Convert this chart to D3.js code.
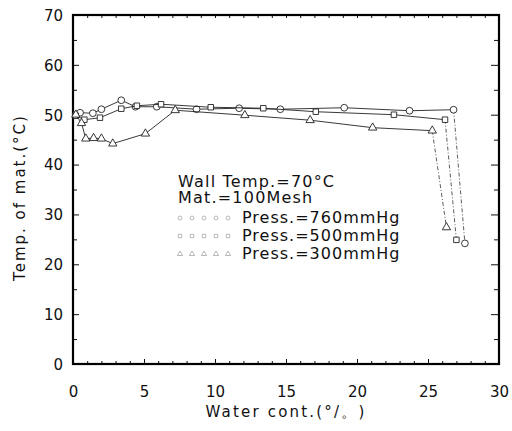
<!DOCTYPE html>
<html>
<head>
<meta charset="utf-8">
<script src="https://cdn.jsdelivr.net/npm/d3@7"></script>
<style>
  body { margin: 0; background: #fff; }
  text { font-family: "DejaVu Sans", sans-serif; fill: #111; }
</style>
</head>
<body>
<div id="chart"></div>
<script>
// data: [water content %, temperature °C]
const press760 = [[0.2, 50], [0.5, 50.4], [1.4, 50.3], [2.0, 51.1], [3.4, 52.9], [4.4, 51.6],
  [5.9, 51.6], [8.7, 51.1], [11.7, 51.3], [14.6, 51.1], [19.1, 51.4], [23.7, 50.8], [26.8, 51.0], [27.6, 24.2]];
const press500 = [[0.2, 49.8], [0.8, 49.0], [1.9, 49.4], [3.4, 51.2], [4.5, 51.8], [6.2, 52.1],
  [9.7, 51.5], [13.4, 51.3], [17.1, 50.6], [22.6, 50.0], [26.2, 49.0], [27.0, 24.9]];
const press300 = [[0.2, 50], [0.6, 48.3], [0.9, 45.2], [1.45, 45.3], [2.0, 45.2], [2.8, 44.2],
  [5.1, 46.2], [7.2, 50.9], [12.1, 49.9], [16.7, 48.9], [21.1, 47.4], [25.3, 46.8], [26.3, 27.4]];

const seriesNames = ["Press.=760mmHg", "Press.=500mmHg", "Press.=300mmHg"];
const seriesSymbols = [d3.symbolCircle, d3.symbolSquare, d3.symbolTriangle];
const noteLines = ["Wall Temp.=70°C", "Mat.=100Mesh"];

const xTicks = [0, 5, 10, 15, 20, 25, 30];
const yTicks = [0, 10, 20, 30, 40, 50, 60, 70];
const xMinor = d3.range(0, 31, 1);
const yMinor = d3.range(5, 70, 10);

const width = 512, height = 431;
const margin = { top: 15, right: 13, bottom: 67, left: 73 };
const innerWidth = width - margin.left - margin.right;
const innerHeight = height - margin.top - margin.bottom;

const svg = d3.select("#chart").append("svg")
  .attr("width", width)
  .attr("height", height);

const g = svg.append("g")
  .attr("transform", `translate(${margin.left}, ${margin.top})`);

const x = d3.scaleLinear().domain([0, 30]).range([0, innerWidth]);
const y = d3.scaleLinear().domain([0, 70]).range([innerHeight, 0]);

// minor ticks first (no labels)
const minorAxes = [
  g.append("g").attr("transform", `translate(0, ${innerHeight})`)
    .call(d3.axisBottom(x).tickValues(xMinor).tickSizeInner(-3).tickSizeOuter(0)),
  g.append("g")
    .call(d3.axisTop(x).tickValues(xMinor).tickSizeInner(-3).tickSizeOuter(0)),
  g.append("g")
    .call(d3.axisLeft(y).tickValues(yMinor).tickSizeInner(-4).tickSizeOuter(0)),
  g.append("g").attr("transform", `translate(${innerWidth}, 0)`)
    .call(d3.axisRight(y).tickValues(yMinor).tickSizeInner(-5).tickSizeOuter(0))
];
minorAxes.forEach(a => a.selectAll("text").remove());

// major ticks with labels
const xAxis = g.append("g")
  .attr("transform", `translate(0, ${innerHeight})`)
  .call(d3.axisBottom(x).tickValues(xTicks).tickSizeInner(-5).tickSizeOuter(0).tickPadding(22));
const yAxis = g.append("g")
  .call(d3.axisLeft(y).tickValues(yTicks).tickSizeInner(-6).tickSizeOuter(0).tickPadding(10));
const yRight = g.append("g")
  .attr("transform", `translate(${innerWidth}, 0)`)
  .call(d3.axisRight(y).tickValues(yTicks).tickSizeInner(-8).tickSizeOuter(0));
yRight.selectAll("text").remove();

xAxis.selectAll("text").style("font-size", "15px").attr("fill", "#111");
yAxis.selectAll("text").style("font-size", "15px").attr("fill", "#111").attr("dy", "0.36em");
g.selectAll(".tick line").attr("stroke", "#111");
g.selectAll(".domain").remove();

// frame
g.append("rect")
  .attr("width", innerWidth)
  .attr("height", innerHeight)
  .attr("fill", "none")
  .attr("stroke", "#000")
  .attr("stroke-width", 2.2);

// series
const allSeries = [press760, press500, press300];
const line = d3.line().x(d => x(d[0])).y(d => y(d[1]));

allSeries.forEach((data, i) => {
  const main = data.slice(0, data.length - 1);
  const drop = data.slice(data.length - 2);
  g.append("path")
    .datum(main)
    .attr("d", line)
    .attr("fill", "none")
    .attr("stroke", "#222")
    .attr("stroke-width", 0.9);
  g.append("path")
    .datum(drop)
    .attr("d", line)
    .attr("fill", "none")
    .attr("stroke", "#333")
    .attr("stroke-width", 0.8)
    .attr("stroke-dasharray", "4,2,1,2");

  const sym = d3.symbol().type(seriesSymbols[i]).size(i === 0 ? 36 : 30);
  g.selectAll(`.pt-${i}`)
    .data(data)
    .join("path")
    .attr("class", `pt-${i}`)
    .attr("transform", d => `translate(${x(d[0])}, ${y(d[1])})`)
    .attr("d", sym)
    .attr("fill", "#fff")
    .attr("stroke", "#222")
    .attr("stroke-width", 0.9);
});

// notes and legend
const legend = svg.append("g");
noteLines.forEach((t, i) => {
  legend.append("text")
    .attr("x", 178)
    .attr("y", 187 + i * 16)
    .style("font-size", "16px")
    .style("letter-spacing", "1.2px")
    .text(t);
});

seriesNames.forEach((name, i) => {
  const ly = 223 + i * 18;
  const sym = d3.symbol().type(seriesSymbols[i]).size(12);
  legend.selectAll(`.lg-${i}`)
    .data(d3.range(5))
    .join("path")
    .attr("class", `lg-${i}`)
    .attr("transform", k => `translate(${180 + k * 12}, ${ly - 5})`)
    .attr("d", sym)
    .attr("fill", "none")
    .attr("stroke", "#999")
    .attr("stroke-width", 0.7);
  legend.append("text")
    .attr("x", 242)
    .attr("y", ly)
    .style("font-size", "16px")
    .style("letter-spacing", "1px")
    .text(name);
});

// axis titles
svg.append("text")
  .attr("x", margin.left + innerWidth / 2)
  .attr("y", 417)
  .attr("text-anchor", "middle")
  .style("font-size", "15px")
  .style("letter-spacing", "2.2px")
  .text("Water cont.(°/。)");

svg.append("text")
  .attr("transform", `translate(25, ${margin.top + innerHeight / 2 + 8}) rotate(-90)`)
  .attr("text-anchor", "middle")
  .style("font-size", "15px")
  .style("letter-spacing", "2px")
  .text("Temp. of mat.(°C)");
</script>
</body>
</html>
